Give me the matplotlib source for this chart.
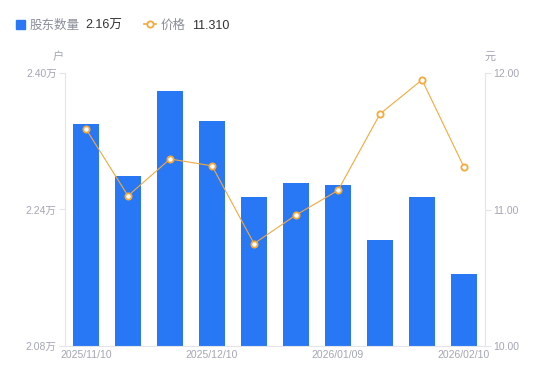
import matplotlib
matplotlib.use("Agg")
import matplotlib.pyplot as plt
import numpy as np

plt.rcParams['font.family'] = ['Liberation Sans', 'Noto Sans CJK SC', 'DejaVu Sans']

dates = ["2025/11/10", "2025/11/20", "2025/11/30", "2025/12/10", "2025/12/20",
         "2025/12/31", "2026/01/09", "2026/01/20", "2026/01/30", "2026/02/10"]
holders = [2.340, 2.279, 2.379, 2.344, 2.255, 2.271, 2.269, 2.204, 2.255, 2.164]  # 万户
price = [11.59, 11.10, 11.37, 11.32, 10.75, 10.96, 11.14, 11.70, 11.95, 11.31]
shown_labels = {0: "2025/11/10", 3: "2025/12/10", 6: "2026/01/09", 9: "2026/02/10"}

bar_color = "#2878F5"
line_color = "#F5A93A"
tick_color = "#A3A6B4"
axis_color = "#E3E5EA"

fig = plt.figure(figsize=(5.5, 3.81), dpi=100)
ax = fig.add_axes([65/550, 35/381, 420/550, 273/381])
ax2 = ax.twinx()

x = np.arange(len(dates))
ax.bar(x, holders, width=0.6, color=bar_color, zorder=2)
ax.set_xlim(-0.5, len(dates) - 0.5)
ax.set_ylim(2.08, 2.40)
ax.set_yticks([2.08, 2.24, 2.40])
ax.set_yticklabels(["2.08万", "2.24万", "2.40万"])
ax.set_xticks(list(shown_labels.keys()))
ax.set_xticklabels(list(shown_labels.values()))

ax2.plot(x, price, color=line_color, lw=0.8, marker='o', ms=4.5,
         markerfacecolor='white', markeredgecolor=line_color, markeredgewidth=1.3, zorder=3)
ax2.set_ylim(10.0, 12.0)
ax2.set_yticks([10.0, 11.0, 12.0])
ax2.set_yticklabels(["10.00", "11.00", "12.00"])

for a in (ax, ax2):
    for s in a.spines.values():
        s.set_visible(False)
ax.spines['left'].set_visible(True)
ax.spines['left'].set_color(axis_color)
ax.spines['bottom'].set_visible(True)
ax.spines['bottom'].set_color(axis_color)
ax2.spines['right'].set_visible(True)
ax2.spines['right'].set_color(axis_color)

ax.tick_params(axis='y', colors=axis_color, labelcolor=tick_color, labelsize=7.5, length=4, pad=2)
ax.tick_params(axis='x', length=0, labelcolor=tick_color, labelsize=7.5, pad=3)
ax2.tick_params(axis='y', colors=axis_color, labelcolor=tick_color, labelsize=7.5, length=4, pad=2)

fig.text(58/550, 1 - 57/381, "户", color=tick_color, fontsize=8, ha='center', va='center')
fig.text(490/550, 1 - 57/381, "元", color=tick_color, fontsize=8, ha='center', va='center')

# legend
ly = 1 - 24/381
ty = ly - 2/381
fig.patches.append(plt.Rectangle((16/550, ly - 4.5/381), 9/550, 9/381, transform=fig.transFigure,
                                 color=bar_color, figure=fig))
fig.text(30/550, ty, "股东数量", color="#8A8D99", fontsize=9, va='center')
fig.text(85/550, ty, "2.16万", color="#333333", fontsize=9, va='center')
fig.add_artist(plt.Line2D([144/550, 156/550], [ly, ly], transform=fig.transFigure,
                          color=line_color, lw=1.2))
fig.add_artist(plt.Line2D([150/550], [ly], transform=fig.transFigure, color=line_color, marker='o', ms=4.5,
                          markerfacecolor='white', markeredgecolor=line_color, markeredgewidth=1.3, lw=0))
fig.text(161/550, ty, "价格", color="#8A8D99", fontsize=9, va='center')
fig.text(192/550, ty, "11.310", color="#333333", fontsize=9, va='center')

fig.savefig("out.png", dpi=100)
